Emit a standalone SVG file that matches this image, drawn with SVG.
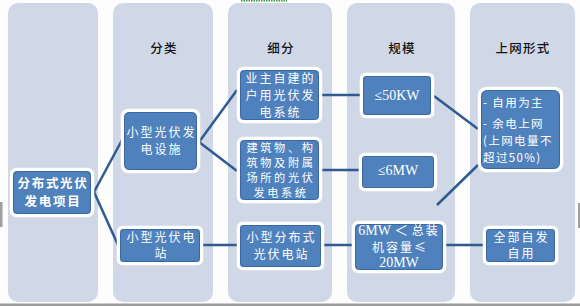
<svg xmlns="http://www.w3.org/2000/svg" width="580" height="306" viewBox="0 0 580 306">
<style>
.panel{fill:#d0d8e7}
.o{fill:#4f81bd;stroke:#ffffff;stroke-width:3.5}
.i{fill:none;stroke:#3a679f;stroke-width:1}
.t{font-family:"Noto Sans CJK SC","Noto Sans",sans-serif;font-size:12px;fill:#ffffff;letter-spacing:2px;text-anchor:middle}
.sm{font-size:11.2px;letter-spacing:2.6px}
.b{font-weight:bold;font-size:12.5px;letter-spacing:1.7px}
.s{font-family:"Liberation Serif","Noto Sans CJK SC",serif;font-size:14px;fill:#ffffff;text-anchor:middle}
.h{font-family:"Noto Sans CJK SC","Noto Sans",sans-serif;font-size:12.5px;font-weight:500;fill:#111111;letter-spacing:1.2px;text-anchor:middle}
.l{font-family:"Noto Sans CJK SC","Noto Sans",sans-serif;font-size:11.5px;fill:#ffffff;letter-spacing:1.4px}
.c{stroke:#2f5b91;stroke-width:2.5;fill:none}
</style>
<rect x="0" y="0" width="580" height="306" fill="#fdfdfd"/>
<line x1="241" y1="0.8" x2="287" y2="0.8" stroke="#3a9a3a" stroke-width="1.5" stroke-dasharray="1.5 1"/>
<rect x="0" y="303.5" width="580" height="2.5" fill="#9c9c9c"/>
<rect x="0" y="202" width="2.5" height="25" fill="#a0a0a0"/>
<rect x="578" y="203" width="2" height="25" fill="#a0a0a0"/>
<g id="panels">
<rect class="panel" x="8" y="3" width="90" height="299" rx="10"/>
<rect class="panel" x="113" y="3" width="100" height="299" rx="10"/>
<rect class="panel" x="228" y="3" width="104" height="299" rx="10"/>
<rect class="panel" x="347" y="3" width="108" height="299" rx="10"/>
<rect class="panel" x="470" y="3" width="105" height="299" rx="10"/>
</g>
<g id="headers">
<text class="h" x="164" y="53">分类</text>
<text class="h" x="281" y="53">细分</text>
<text class="h" x="402" y="53">规模</text>
<text class="h" x="523" y="53">上网形式</text>
</g>
<g id="connectors">
<line class="c" x1="94" y1="192" x2="122" y2="140"/>
<line class="c" x1="94" y1="192" x2="118" y2="245"/>
<line class="c" x1="199" y1="142" x2="237" y2="90"/>
<line class="c" x1="199" y1="142" x2="237" y2="171"/>
<line class="c" x1="203" y1="245" x2="237" y2="245"/>
<line class="c" x1="322" y1="95" x2="360" y2="95"/>
<line class="c" x1="322" y1="170" x2="359" y2="170"/>
<line class="c" x1="324" y1="245" x2="352" y2="245"/>
<line class="c" x1="434" y1="96" x2="478" y2="129"/>
<line class="c" x1="437" y1="205" x2="478" y2="165"/>
<line class="c" x1="446" y1="245" x2="483" y2="245"/>
</g>
<g id="n1">
<rect class="o" x="11.5" y="169.5" width="81" height="46" rx="5"/>
<rect class="i" x="13.5" y="171.5" width="77" height="42" rx="4"/>
<text class="t b" x="53" y="187.5">分布式光伏</text>
<text class="t b" x="53" y="205.5">发电项目</text>
</g>
<g id="n2">
<rect class="o" x="122.5" y="110.5" width="76" height="61" rx="6"/>
<rect class="i" x="124.5" y="112.5" width="72" height="57" rx="5"/>
<text class="t" x="161.5" y="136.5">小型光伏发</text>
<text class="t" x="161.5" y="153.5">电设施</text>
</g>
<g id="n3">
<rect class="o" x="118.5" y="227.5" width="83" height="36" rx="4"/>
<rect class="i" x="120.5" y="229.5" width="79" height="32" rx="3"/>
<text class="t" x="161.5" y="241.5">小型光伏电</text>
<text class="t" x="161.5" y="257.5">站</text>
</g>
<g id="n3a">
<rect class="o" x="238.5" y="68.5" width="82" height="53" rx="5"/>
<rect class="i" x="240.5" y="70.5" width="78" height="49" rx="4"/>
<text class="t" x="280.5" y="82.5">业主自建的</text>
<text class="t" x="280.5" y="99.5">户用光伏发</text>
<text class="t" x="280.5" y="116.5">电系统</text>
</g>
<g id="n3b">
<rect class="o" x="238.5" y="138.5" width="82" height="63" rx="5"/>
<rect class="i" x="240.5" y="140.5" width="78" height="59" rx="4"/>
<text class="t sm" x="281" y="151.5">建筑物、构</text>
<text class="t sm" x="281" y="166.5">筑物及附属</text>
<text class="t sm" x="281" y="181.5">场所的光伏</text>
<text class="t sm" x="281" y="196.5">发电系统</text>
</g>
<g id="n3c">
<rect class="o" x="238.5" y="223.5" width="84" height="45" rx="4"/>
<rect class="i" x="240.5" y="225.5" width="80" height="41" rx="3"/>
<text class="t" x="281.5" y="241.5">小型分布式</text>
<text class="t" x="281.5" y="258.5">光伏电站</text>
</g>
<g id="n4a">
<rect class="o" x="361.5" y="74.5" width="71" height="42" rx="4"/>
<rect class="i" x="363.5" y="76.5" width="67" height="38" rx="3"/>
<text class="s" x="397" y="100">≤50KW</text>
</g>
<g id="n4b">
<rect class="o" x="360.5" y="154.5" width="75" height="35" rx="4"/>
<rect class="i" x="362.5" y="156.5" width="71" height="31" rx="3"/>
<text class="s" x="398" y="175">≤6MW</text>
</g>
<g id="n4c">
<rect class="o" x="353.5" y="222.5" width="91" height="49" rx="5"/>
<rect class="i" x="355.5" y="224.5" width="87" height="45" rx="4"/>
<text class="s" x="399" y="234.5">6MW ＜ <tspan font-family="Noto Sans CJK SC" font-size="12" letter-spacing="2">总装</tspan></text>
<text class="t" x="400" y="251.5">机容量≤</text>
<text class="s" x="399" y="267">20MW</text>
</g>
<g id="n5a">
<rect class="o" x="479.5" y="88.5" width="82" height="82" rx="7"/>
<rect class="i" x="481.5" y="90.5" width="78" height="78" rx="6"/>
<text class="l" x="483" y="106.5">- 自用为主</text>
<text class="l" x="483" y="127.5">- 余电上网</text>
<text class="l" x="483" y="144.5">(上网电量不</text>
<text class="l" x="483" y="161.5">超过50%)</text>
</g>
<g id="n5b">
<rect class="o" x="484.5" y="227.5" width="72" height="36" rx="4"/>
<rect class="i" x="486.5" y="229.5" width="68" height="32" rx="3"/>
<text class="t" x="521.5" y="241.5">全部自发</text>
<text class="t" x="521.5" y="257.5">自用</text>
</g>
</svg>
